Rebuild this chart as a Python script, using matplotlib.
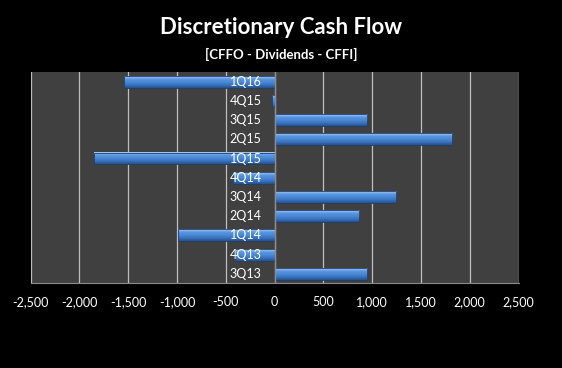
import numpy as np
import matplotlib
matplotlib.use("Agg")
import matplotlib.pyplot as plt
import matplotlib.transforms as mtransforms
from matplotlib.colors import LinearSegmentedColormap
from matplotlib.ticker import FuncFormatter

quarters = ["3Q13", "4Q13", "1Q14", "2Q14", "3Q14", "4Q14",
            "1Q15", "2Q15", "3Q15", "4Q15", "1Q16"]
cash_flow = [945, -405, -990, 865, 1245, -430,
             -1850, 1815, 950, -25, -1540]
xticks = [-2500, -2000, -1500, -1000, -500, 0, 500, 1000, 1500, 2000, 2500]

plt.rcParams['font.family'] = ['Lato', 'DejaVu Sans']

fig = plt.figure(figsize=(5.62, 3.68), dpi=100, facecolor="black")
ax = fig.add_axes([0.0546, 0.230, 0.868, 0.574])
ax.set_facecolor("#404040")

# bevel-ish vertical gradient for bars (top light, bottom dark)
bar_cmap = LinearSegmentedColormap.from_list(
    "bar", ["#24528f", "#3a72bd", "#4a88d6", "#5b97e0", "#a9cdf5"])
grad = np.linspace(0, 1, 64).reshape(-1, 1)
h = 0.62
for i, v in enumerate(cash_flow):
    x0, x1 = min(0, v), max(0, v)
    ax.imshow(grad, cmap=bar_cmap, aspect="auto", origin="lower",
              extent=(x0, x1, i - h / 2, i + h / 2), zorder=2,
              interpolation="bilinear")
    ax.barh(i, v, height=h, color="none", edgecolor="#1f3f6b",
            linewidth=0.6, zorder=3)

ax.set_xlim(-2500, 2500)
ax.set_ylim(-0.5, len(quarters) - 0.5)
ax.set_xticks(xticks)
ax.xaxis.set_major_formatter(FuncFormatter(lambda v, p: f"{int(v):,}"))
ax.set_yticks([])
ax.grid(axis="x", color="#bfbfbf", linewidth=0.9, zorder=1)
ax.set_axisbelow(True)
ax.axvline(0, color="#8c8c8c", linewidth=0.9, zorder=4)

# category labels sit just left of the zero line, over the bars
lab_tr = mtransforms.offset_copy(ax.transData, fig=fig, x=-13, y=0, units="dots")
for i, q in enumerate(quarters):
    ax.text(0, i, q, transform=lab_tr, ha="right", va="center",
            color="white", fontsize=9, zorder=6)

for s in ["top", "right", "left"]:
    ax.spines[s].set_visible(False)
ax.spines["bottom"].set_color("#8c8c8c")
ax.tick_params(axis="x", length=0, colors="white", labelsize=9, pad=9)

fig.text(0.50, 0.925, "Discretionary Cash Flow", color="white",
         fontsize=16, fontweight="bold", ha="center", va="center")
fig.text(0.50, 0.852, "[CFFO - Dividends - CFFI]", color="white",
         fontsize=9.5, fontweight="bold", ha="center", va="center")

fig.savefig("out.png", dpi=100, facecolor="black")
